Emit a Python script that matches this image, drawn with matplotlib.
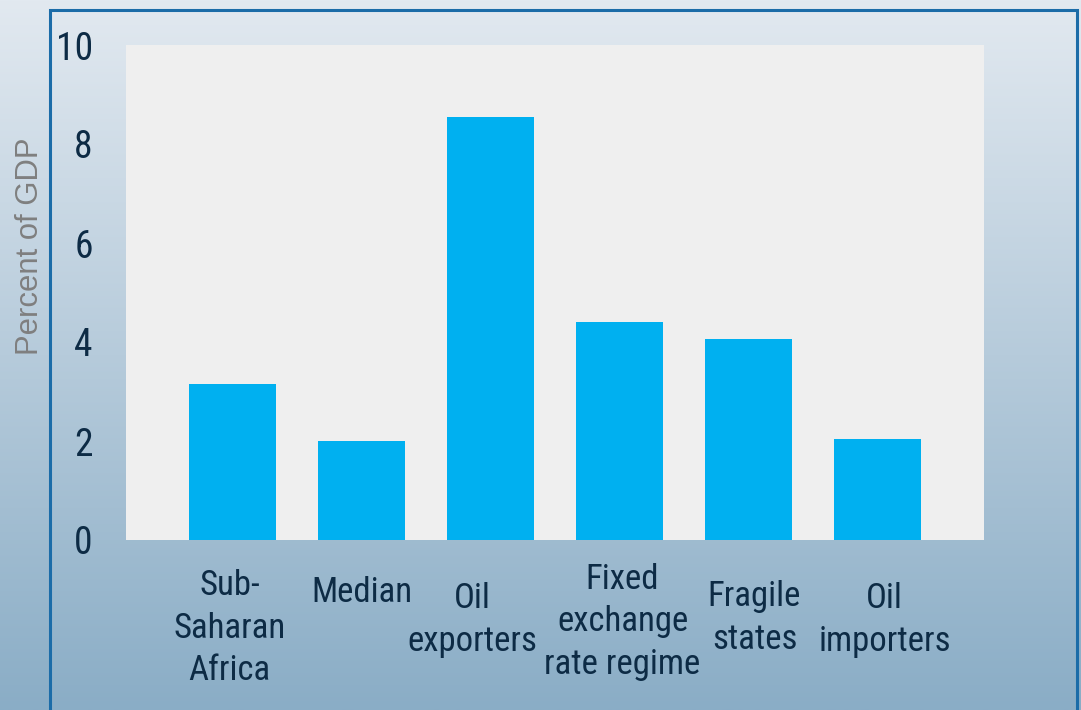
import numpy as np
import matplotlib
matplotlib.use("Agg")
import matplotlib.pyplot as plt
from matplotlib.colors import LinearSegmentedColormap
from matplotlib.patches import Rectangle

# === Data ===
categories = ["Sub-\nSaharan\nAfrica", "Median", "Oil\nexporters",
              "Fixed\nexchange\nrate regime", "Fragile\nstates", "Oil\nimporters"]
values = [3.15, 2.0, 8.55, 4.4, 4.06, 2.04]
yticks = [0, 2, 4, 6, 8, 10]

# label offsets from the bar centre / below the axis (pixels)
label_dx = [-3, 0, -18, 3, 6, 7]
label_drop = [88, 52, 80, 82, 78, 80]

narrow = ["Roboto Condensed", "Liberation Sans", "DejaVu Sans"]
text_color = "#0D2B45"

W, H = 1081, 710
fig = plt.figure(figsize=(W / 100, H / 100), dpi=100)

# gradient background
bg = fig.add_axes([0, 0, 1, 1], zorder=-10)
cmap = LinearSegmentedColormap.from_list("bg", ["#E2E9F0", "#8AADC6"])
bg.imshow(np.linspace(0, 1, 256).reshape(-1, 1), aspect="auto", cmap=cmap,
          extent=[0, 1, 0, 1], origin="upper")
bg.set_xlim(0, 1)
bg.set_ylim(0, 1)
bg.axis("off")

# frame line (left, top, right)
fig.patches.append(Rectangle((50 / W, -0.05), (1077 - 50) / W, 1.05 - 10 / H,
                             transform=fig.transFigure, fill=False,
                             edgecolor="#1B6CA8", linewidth=2.2, zorder=-5))

ax = fig.add_axes([126 / W, (H - 540) / H, (984 - 126) / W, (540 - 45) / H])
ax.set_facecolor("#EFEFEF")
x = np.arange(len(categories))
ax.bar(x, values, width=0.67, color="#00B0F0", zorder=2)

ax.set_xlim(-0.825, 5.825)
ax.set_ylim(0, 10)
ax.set_yticks(yticks)
ax.set_yticklabels([str(t) for t in yticks], family=narrow, fontsize=27, color=text_color)
ax.tick_params(axis="y", length=0, pad=24)
ax.set_xticks([])
for s in ax.spines.values():
    s.set_visible(False)

for i, (lab, dx, d) in enumerate(zip(categories, label_dx, label_drop)):
    ax.annotate(lab, xy=(i, 0), xytext=(dx, -d), textcoords="offset pixels",
                ha="center", va="center", family=narrow, fontsize=25,
                color=text_color, linespacing=1.36, annotation_clip=False)

fig.text(30 / W, 1 - 246 / H, "Percent of GDP", rotation=90, ha="center", va="center",
         family=["Liberation Sans", "DejaVu Sans"], fontsize=22.3, color="#7F7F7F")

fig.savefig("out.png", dpi=100)
